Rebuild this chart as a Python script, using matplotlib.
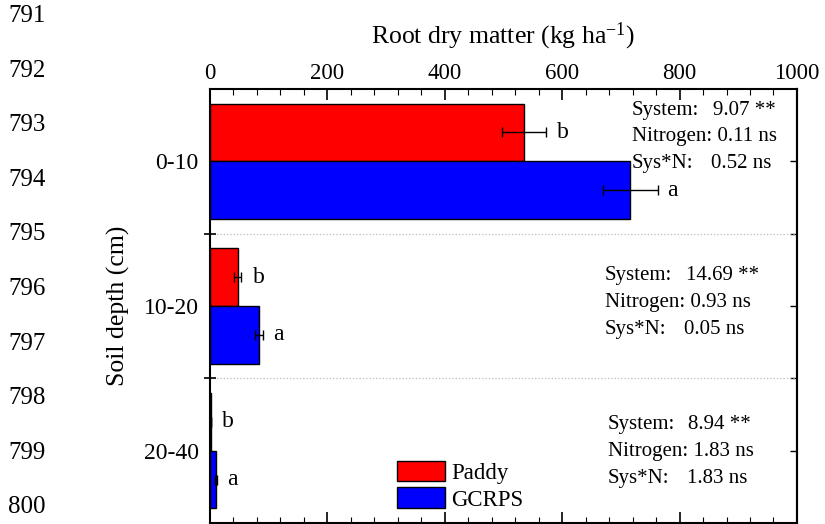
import numpy as np
import matplotlib.pyplot as plt
from matplotlib.ticker import MultipleLocator

plt.rcParams['font.family'] = ['Liberation Serif', 'DejaVu Serif']
plt.rcParams['mathtext.fontset'] = 'custom'
plt.rcParams['mathtext.rm'] = 'Liberation Serif'
plt.rcParams['mathtext.default'] = 'regular'

# data
depths = ['0-10', '10-20', '20-40']
paddy = [535, 47, 1.5]
paddy_err = [37, 6.5, 0]
gcrps = [716, 84, 10]
gcrps_err = [47, 7, 2]
paddy_letters = ['b', 'b', 'b']
gcrps_letters = ['a', 'a', 'a']
stat_system = ['9.07 **', '14.69 **', '8.94 **']
stat_nitrogen = ['0.11 ns', '0.93 ns', '1.83 ns']
stat_sysn = ['0.52 ns', '0.05 ns', '1.83 ns']
line_numbers = list(range(791, 801))

fig = plt.figure(figsize=(8.25, 5.24), dpi=100)
ax = fig.add_axes([0.2545, 0.002, 0.7115, 0.828])

y = np.arange(len(depths))
h = 0.4
ax.barh(y + 0.3, paddy, height=h, color='#ff0000', edgecolor='black', linewidth=1, label='Paddy', zorder=2)
ax.barh(y + 0.7, gcrps, height=h, color='#0000ff', edgecolor='black', linewidth=1, label='GCRPS', zorder=2)
ax.errorbar(paddy, y + 0.3, xerr=paddy_err, fmt='none', ecolor='black', elinewidth=1, capsize=3.5, zorder=3)
ax.errorbar(gcrps, y + 0.7, xerr=gcrps_err, fmt='none', ecolor='black', elinewidth=1, capsize=3.5, zorder=3)

for i in range(len(depths)):
    ax.annotate(paddy_letters[i], (paddy[i] + paddy_err[i], y[i] + 0.3), xytext=(8, 0),
                textcoords='offset points', ha='left', va='center', fontsize=17)
    ax.annotate(gcrps_letters[i], (gcrps[i] + gcrps_err[i], y[i] + 0.7), xytext=(7, 0),
                textcoords='offset points', ha='left', va='center', fontsize=17)

# ANOVA results for each depth
stat_x = [719, 673, 678]
stat_y0 = [0.145, 1.29, 2.32]
dy = 0.185
for i in range(len(depths)):
    y0 = stat_y0[i]
    ax.text(stat_x[i], y0, 'System:', ha='left', va='center', fontsize=15)
    ax.annotate(stat_system[i], (stat_x[i], y0), xytext=(58, 0), textcoords='offset points',
                ha='left', va='center', fontsize=15)
    ax.text(stat_x[i], y0 + dy, 'Nitrogen: ' + stat_nitrogen[i], ha='left', va='center', fontsize=15)
    ax.text(stat_x[i], y0 + 2 * dy, 'Sys*N:', ha='left', va='center', fontsize=15)
    ax.annotate(stat_sysn[i], (stat_x[i], y0 + 2 * dy), xytext=(57, 0), textcoords='offset points',
                ha='left', va='center', fontsize=15)

ax.set_xlim(0, 1000)
ax.set_ylim(3, 0)

# x axis on top
ax.xaxis.set_major_locator(MultipleLocator(200))
ax.xaxis.set_minor_locator(MultipleLocator(40))
ax.tick_params(axis='x', which='both', direction='in', top=True, bottom=True,
               labeltop=True, labelbottom=False, labelsize=16.5, pad=4)
ax.tick_params(axis='x', which='major', length=8, width=1.2)
ax.tick_params(axis='x', which='minor', length=4, width=0.8)
ax.xaxis.set_label_position('top')
ax.set_xlabel('Root dry matter (kg ha$^{-1}$)', fontsize=18.5, labelpad=14)

# y axis: boundaries as major ticks, depth labels as minor
ax.set_yticks([1, 2])
ax.set_yticklabels([])
ax.set_yticks(y + 0.5, minor=True)
ax.set_yticklabels(depths, minor=True, fontsize=17)
ax.tick_params(axis='y', which='major', direction='inout', length=9, width=1.2, right=False)
ax.tick_params(axis='y', which='minor', length=0, pad=8, right=False)
ax.set_ylabel('Soil depth (cm)', fontsize=18.5, labelpad=10)
ax.yaxis.grid(True, which='major', linestyle=':', color='#bbbbbb', linewidth=0.9)
ax.set_axisbelow(True)

sec = ax.secondary_yaxis('right')
sec.set_yticks([0.5, 1, 1.5, 2, 2.5])
sec.set_yticklabels([])
sec.tick_params(direction='in', length=5, width=1)
sec.spines['right'].set_linewidth(1.5)

for sp in ax.spines.values():
    sp.set_linewidth(1.5)

ax.legend(loc='upper left', bbox_to_anchor=(0.318, 0.143), frameon=False, fontsize=16.5,
          handlelength=2.1, handleheight=1.0, handletextpad=0.3, labelspacing=0.15,
          borderpad=0, borderaxespad=0)

# manuscript line numbers
for k, n in enumerate(line_numbers):
    fig.text(8 / 825, 1 - (16 + k * 54.6) / 524, str(n), ha='left', va='center', fontsize=18)

fig.savefig('out.png', dpi=100)
